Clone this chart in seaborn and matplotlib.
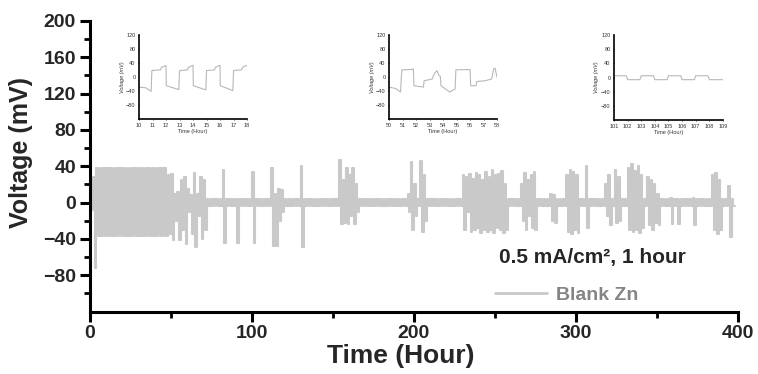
import numpy as np
import seaborn as sns
import matplotlib
matplotlib.use('Agg')
from matplotlib import pyplot as plt
from matplotlib.ticker import MultipleLocator

# main trace: base square-wave amplitude (mV) per stretch of hours
base_from = [0, 48]
base_to = [48, 398]
base_hi = [38, 4]
base_lo = [-37, -4]

# cycles (start hour) whose amplitude departs from the base
spike_hour = [0, 2, 48, 50, 52, 54, 56, 58, 60, 62, 64, 66, 68, 70,
              82, 90, 100, 112, 114, 116, 118, 130,
              154, 156, 158, 160, 162, 164,
              196, 198, 200, 204, 206,
              230, 232, 234, 236, 238, 240, 242, 244, 246, 248, 250, 252,
              254, 256,
              266, 268, 270, 272, 274, 284, 286,
              294, 296, 298, 300, 306, 318, 320, 324, 326,
              332, 334, 336, 338, 340, 344, 346, 348, 350,
              358, 362, 372, 384, 386, 388, 394]
spike_hi = [-4, 28, 30, 31, 10, 12, 25, 28, 15, 8, 33, 10, 28, 25,
            36, 4, 34, 38, 10, 15, 14, 40,
            47, 25, 38, 30, 38, 20,
            10, 45, 20, 46, 30,
            30, 28, 32, 26, 33, 30, 25, 34, 28, 36, 30, 32,
            35, 20,
            20, 33, 25, 30, 34, 10, 8,
            30, 36, 34, 30, 40, 20, 30, 36, 28,
            38, 42, 35, 40, 30, 28, 25, 20, 10,
            5, 4, 5, 30, 33, 25, 18]
spike_lo = [-8, -72, -35, -41, -20, -41, -30, -46, -10, -35, -49, -15, -40, -30,
            -44, -44, -44, -48, -48, -20, -10, -49,
            -24, -22, -24, -15, -24, -10,
            -10, -30, -15, -32, -20,
            -30, -10, -32, -30, -28, -33, -30, -32, -30, -33, -28, -30,
            -33, -30,
            -20, -30, -15, -28, -30, -20, -22,
            -32, -35, -30, -34, -28, -15, -25, -22, -20,
            -30, -32, -30, -33, -28, -25, -30, -22, -25,
            -24, -24, -25, -30, -35, -30, -38]

# insets: zoomed-in voltage profiles
ins1_t = [10, 10.5, 10.9, 10.95, 11.6, 11.65, 12.0, 12.02, 12.95, 13.0, 13.6,
          13.65, 14.0, 14.02, 14.95, 15.0, 15.6, 15.65, 16.0, 16.02, 16.95,
          17.0, 17.6, 17.65, 18.0]
ins1_v = [-28, -30, -40, 19, 21, 28, 33, -24, -35, 19, 21, 28, 34, -24, -36,
          19, 21, 28, 34, -24, -38, 19, 21, 28, 34]
ins2_t = [50, 50.5, 50.85, 50.95, 51.7, 51.8, 51.85, 52.55, 52.6, 53.2, 53.35,
          53.55, 53.7, 53.8, 53.85, 54.5, 54.9, 54.95, 56.0, 56.05, 56.45,
          56.5, 57.1, 57.6, 57.75, 57.85, 58.0]
ins2_v = [-28, -32, -42, 21, 22, 24, -24, -28, -10, -5, 10, 19, 5, 3, -24,
          -42, -33, 21, 22, -24, -24, -12, -10, -5, 24, 26, 0]
ins3_t = [101, 101.9, 102.0, 102.9, 103.0, 103.9, 104.0, 104.9, 105.0, 105.9,
          106.0, 106.9, 107.0, 107.9, 108.0, 109.0]
ins3_v = [5, 5, -6, -6, 5, 5, -6, -6, 5, 5, -6, -6, 5, 5, -6, -6]

trace_color = '#c9c9c9'

# expand cycle amplitudes to an hourly step series
hours = np.arange(0, 399)
volts = np.zeros(len(hours))
for a, b, hi, lo in zip(base_from, base_to, base_hi, base_lo):
    sel = (hours >= a) & (hours < b)
    volts[sel & (hours % 2 == 0)] = hi
    volts[sel & (hours % 2 == 1)] = lo
for h, hi, lo in zip(spike_hour, spike_hi, spike_lo):
    volts[h] = hi
    volts[h + 1] = lo
volts[-1] = volts[-2]

sns.set_style('ticks')
plt.rcParams['font.family'] = ['Liberation Sans', 'DejaVu Sans']
plt.rcParams['font.weight'] = 'bold'

fig = plt.figure(figsize=(7.58, 3.74), dpi=100)
ax = fig.add_axes([0.1187, 0.167, 0.8549, 0.7769])
sns.lineplot(x=hours, y=volts, ax=ax, color=trace_color, lw=1.5,
             drawstyle='steps-post', estimator=None, sort=False,
             label='Blank Zn')
ax.set_xlim(0, 400)
ax.set_ylim(-120, 200)
ax.set_xticks([0, 100, 200, 300, 400])
ax.xaxis.set_minor_locator(MultipleLocator(50))
ax.set_yticks(np.arange(-80, 201, 40))
ax.set_yticks(np.arange(-100, 200, 40), minor=True)
for s in ['top', 'right']:
    ax.spines[s].set_visible(False)
for s in ['left', 'bottom']:
    ax.spines[s].set_linewidth(2.2)
    ax.spines[s].set_color('black')
ax.tick_params(which='major', length=7, width=2.2, labelsize=14, pad=3,
               color='black')
ax.tick_params(which='minor', length=4, width=2.0, color='black')
ax.set_xlabel('Time (Hour)', fontsize=19, fontweight='bold')
ax.set_ylabel('Voltage (mV)', fontsize=18, fontweight='bold')
ax.xaxis.set_label_coords(0.48, -0.11)
ax.yaxis.set_label_coords(-0.088, 0.546)
ax.text(310, -60, '0.5 mA/cm², 1 hour', fontsize=15,
        fontweight='bold', ha='center', va='center')
leg = ax.legend(loc='center left', bbox_to_anchor=(0.625, 0.057),
                frameon=False, borderpad=0, borderaxespad=0,
                handlelength=2.7, handletextpad=0.45,
                prop={'size': 14, 'weight': 'bold'})
for t in leg.get_texts():
    t.set_color('#858585')
for line in leg.get_lines():
    line.set_linewidth(2)

# insets
insets = [([0.1834, 0.6805, 0.1425, 0.2259], ins1_t, ins1_v, range(10, 19)),
          ([0.5132, 0.6805, 0.1425, 0.2259], ins2_t, ins2_v, range(50, 59)),
          ([0.8100, 0.6790, 0.1438, 0.2273], ins3_t, ins3_v, range(101, 110))]
for rect, t, v, xt in insets:
    iax = fig.add_axes(rect)
    iax.patch.set_alpha(0)
    sns.lineplot(x=t, y=v, ax=iax, color='#b8b8b8', lw=0.8,
                 estimator=None, sort=False)
    iax.set_xlim(xt[0], xt[-1])
    iax.set_ylim(-120, 120)
    iax.set_xticks(list(xt))
    iax.set_yticks([-80, -40, 0, 40, 80, 120])
    for s in ['top', 'right']:
        iax.spines[s].set_visible(False)
    for s in ['left', 'bottom']:
        iax.spines[s].set_linewidth(1.2)
        iax.spines[s].set_color('black')
    iax.tick_params(length=1, width=0.6, labelsize=4, pad=1.5,
                    labelcolor='#333333')
    for lab in iax.get_xticklabels() + iax.get_yticklabels():
        lab.set_fontweight('normal')
    iax.set_xlabel('Time (Hour)', fontsize=4, fontweight='normal',
                   color='#333333', labelpad=1)
    iax.set_ylabel('Voltage (mV)', fontsize=4, fontweight='normal',
                   style='italic', color='#333333', labelpad=1)

fig.savefig('out.png', dpi=100)
